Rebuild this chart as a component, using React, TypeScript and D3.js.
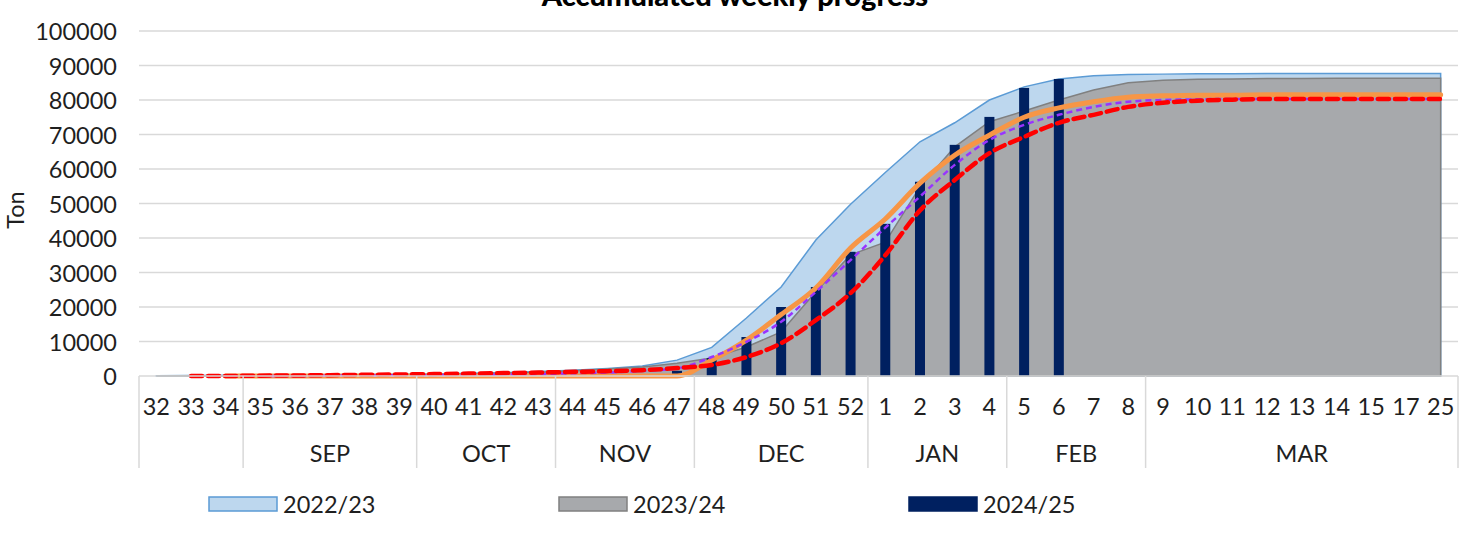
import { useEffect, useRef } from 'react';
import * as d3 from 'd3';

const weeks = [
  '32', '33', '34', '35', '36', '37', '38', '39', '40', '41', '42', '43', '44', '45', '46', '47',
  '48', '49', '50', '51', '52', '1', '2', '3', '4', '5', '6', '7', '8',
  '9', '10', '11', '12', '13', '14', '15', '17', '25',
];
const monthLabels = ['', 'SEP', 'OCT', 'NOV', 'DEC', 'JAN', 'FEB', 'MAR'];
const monthSpans = [3, 5, 4, 4, 5, 4, 4, 9];
const yTicks = [0, 10000, 20000, 30000, 40000, 50000, 60000, 70000, 80000, 90000, 100000];

// season areas
const season2223 = [
  100, 150, 200, 250, 300, 350, 400, 500, 600, 800, 1000, 1300, 1700, 2200, 2900, 4600,
  8300, 16800, 25800, 39400, 49800, 59000, 67900, 73400, 80000, 83800, 86100, 87000, 87400,
  87500, 87600, 87600, 87700, 87700, 87700, 87700, 87700, 87700,
];
const season2324 = [
  0, 50, 100, 150, 200, 250, 300, 350, 400, 600, 800, 1100, 1500, 2000, 2600, 3700,
  5200, 8400, 12800, 24400, 35100, 38800, 54800, 66400, 73700, 76800, 80000, 82900, 85000,
  85700, 86000, 86100, 86200, 86200, 86300, 86300, 86300, 86300,
];
// current season bars
const season2425: (number | null)[] = [
  null, null, null, null, null, null, null, null, null, null, null, null, null, null, null, 1500,
  5200, 11300, 20000, 25800, 36000, 44100, 56300, 67000, 75100, 83500, 86100, null, null,
  null, null, null, null, null, null, null, null, null,
];
// unlabelled lines
const orangeLine: (number | null)[] = [
  null, null, 0, 0, 0, 0, 0, 0, 0, 0, 0, 0, 0, 0, 0, 0,
  4600, 10400, 17800, 25500, 37100, 45500, 55900, 64000, 69800, 75000, 77700, 79500, 80800,
  81200, 81400, 81400, 81500, 81500, 81500, 81500, 81500, 81500,
];
const purpleLine: (number | null)[] = [
  null, null, null, 0, 0, 100, 150, 200, 250, 300, 400, 500, 800, 1000, 1500, 2200,
  5500, 9900, 15700, 24400, 33600, 43000, 52000, 61200, 68400, 72800, 75700, 78000, 79500,
  80000, 80200, 80300, 80300, 80300, 80300, 80300, 80300, 80300,
];
const redLine: (number | null)[] = [
  null, 0, 0, 100, 150, 250, 350, 450, 550, 700, 850, 1000, 1200, 1400, 1700, 2300,
  3200, 5500, 9500, 16200, 24000, 35000, 48000, 56800, 64600, 69300, 73400, 75700, 78000,
  79200, 79800, 80100, 80300, 80300, 80300, 80300, 80300, 80300,
];

const FONT = 'Lato, "Open Sans", sans-serif';
const GRID = '#D9D9D9';
const TEXT = '#1f1f1f';
const FS = 23.5;

export default function App() {
  const svgRef = useRef<SVGSVGElement>(null);

  useEffect(() => {
    if (!svgRef.current) return;
    const W = 1472;
    const H = 539;
    const left = 139, right = 1458, top = 31, bottom = 376;

    const svg = d3.select(svgRef.current);
    svg.selectAll('*').remove();

    const x = d3.scaleBand<string>().domain(weeks).range([left, right]);
    const y = d3.scaleLinear().domain([0, 100000]).range([bottom, top]);
    const cx = (w: string) => (x(w) ?? 0) + x.bandwidth() / 2;

    // title (partly off the top, as in the source)
    svg.append('text')
      .attr('x', 735).attr('y', 6)
      .attr('text-anchor', 'middle')
      .attr('font-family', FONT).attr('font-weight', 900).attr('font-size', 29)
      .attr('fill', '#000')
      .text('Accumulated weekly progress');

    // gridlines
    svg.append('g').selectAll('line').data(yTicks.slice(1)).join('line')
      .attr('x1', left).attr('x2', right)
      .attr('y1', (d) => y(d)).attr('y2', (d) => y(d))
      .attr('stroke', GRID).attr('stroke-width', 1.5);

    // y tick labels
    svg.append('g').selectAll('text').data(yTicks).join('text')
      .attr('x', 117).attr('y', (d) => y(d))
      .attr('text-anchor', 'end').attr('dominant-baseline', 'central')
      .attr('font-family', FONT).attr('font-size', FS).attr('fill', TEXT)
      .text((d) => String(d));

    svg.append('text')
      .attr('transform', 'translate(15,210) rotate(-90)')
      .attr('text-anchor', 'middle').attr('dominant-baseline', 'central')
      .attr('font-family', FONT).attr('font-size', FS).attr('fill', TEXT)
      .text('Ton');

    // areas
    const area = (vals: number[]) => d3.area<number>()
      .x((_, i) => cx(weeks[i]))
      .y0(y(0))
      .y1((d) => y(d))(vals) ?? '';

    svg.append('path').attr('d', area(season2223))
      .attr('fill', '#BDD7EE').attr('stroke', '#5B9BD5').attr('stroke-width', 1.5);
    svg.append('path').attr('d', area(season2324))
      .attr('fill', '#A7A9AC').attr('stroke', '#808080').attr('stroke-width', 1.5);

    // bars
    const barW = 10;
    svg.append('g').selectAll('rect')
      .data(season2425.map((v, i) => ({ v, w: weeks[i] })).filter((d) => d.v != null))
      .join('rect')
      .attr('x', (d) => cx(d.w) - barW / 2)
      .attr('width', barW)
      .attr('y', (d) => y(d.v as number))
      .attr('height', (d) => y(0) - y(d.v as number))
      .attr('fill', '#002060');

    // lines
    const line = d3.line<number | null>()
      .defined((d) => d != null)
      .x((_, i) => cx(weeks[i]))
      .y((d) => y(d as number))
      .curve(d3.curveMonotoneX);

    svg.append('path').attr('d', line(orangeLine) ?? '')
      .attr('fill', 'none').attr('stroke', '#F79646').attr('stroke-width', 5)
      .attr('stroke-linecap', 'round').attr('stroke-linejoin', 'round');
    svg.append('path').attr('d', line(purpleLine) ?? '')
      .attr('fill', 'none').attr('stroke', '#9933FF').attr('stroke-width', 2.5)
      .attr('stroke-dasharray', '6,4');
    svg.append('path').attr('d', line(redLine) ?? '')
      .attr('fill', 'none').attr('stroke', '#FF0000').attr('stroke-width', 4.5)
      .attr('stroke-dasharray', '11,6').attr('stroke-linecap', 'round');

    // category axis
    svg.append('line')
      .attr('x1', left).attr('x2', right).attr('y1', bottom).attr('y2', bottom)
      .attr('stroke', GRID).attr('stroke-width', 1.5);

    svg.append('g').selectAll('text').data(weeks).join('text')
      .attr('x', (d) => cx(d)).attr('y', 406)
      .attr('text-anchor', 'middle').attr('dominant-baseline', 'central')
      .attr('font-family', FONT).attr('font-size', FS).attr('fill', TEXT)
      .text((d) => d);

    let start = 0;
    const bounds: number[] = [left];
    monthLabels.forEach((label, i) => {
      const x0 = x(weeks[start]) ?? 0;
      const end = start + monthSpans[i];
      const x1 = end < weeks.length ? (x(weeks[end]) ?? 0) : right;
      bounds.push(x1);
      svg.append('text')
        .attr('x', (x0 + x1) / 2).attr('y', 453)
        .attr('text-anchor', 'middle').attr('dominant-baseline', 'central')
        .attr('font-family', FONT).attr('font-size', FS).attr('fill', TEXT)
        .text(label);
      start = end;
    });

    svg.append('g').selectAll('line').data(bounds).join('line')
      .attr('x1', (d) => d).attr('x2', (d) => d)
      .attr('y1', bottom).attr('y2', 468)
      .attr('stroke', GRID).attr('stroke-width', 1.5);

    // legend
    const legendItems = [
      { label: '2022/23', fill: '#BDD7EE', stroke: '#5B9BD5' },
      { label: '2023/24', fill: '#A7A9AC', stroke: '#808080' },
      { label: '2024/25', fill: '#002060', stroke: '#002060' },
    ];
    legendItems.forEach((item, i) => {
      const gx = 209 + i * 350;
      svg.append('rect')
        .attr('x', gx).attr('y', 497).attr('width', 68).attr('height', 14)
        .attr('fill', item.fill).attr('stroke', item.stroke).attr('stroke-width', 1.5);
      svg.append('text')
        .attr('x', gx + 74).attr('y', 504)
        .attr('dominant-baseline', 'central')
        .attr('font-family', FONT).attr('font-size', FS).attr('fill', TEXT)
        .text(item.label);
    });

    svg.attr('width', W).attr('height', H);
  }, []);

  return (
    <div style={{ position: 'absolute', left: 0, top: 0, background: '#fff' }}>
      <svg ref={svgRef} width={1472} height={539} style={{ display: 'block' }} />
    </div>
  );
}
